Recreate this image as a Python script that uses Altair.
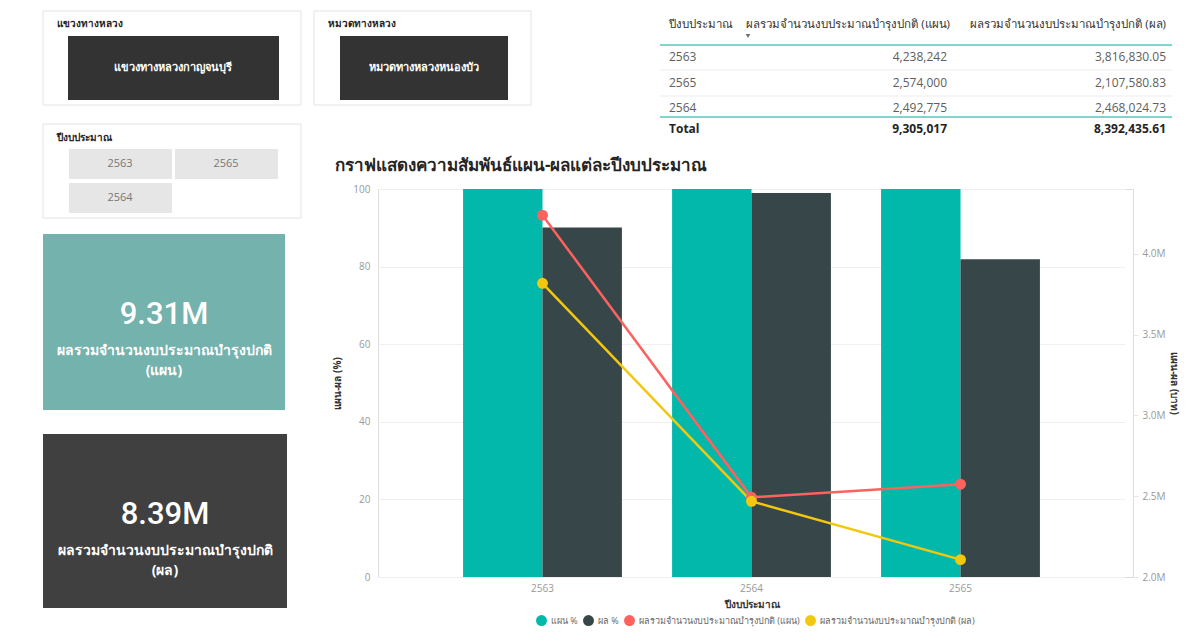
import altair as alt
import pandas as pd

# ---------------- data ----------------
years = ["2563", "2564", "2565"]
plan_pct = [100, 100, 100]
actual_pct = [90.1, 99.0, 81.9]
plan_amount = [4238242, 2492775, 2574000]
actual_amount = [3816830.05, 2468024.73, 2107580.83]

series_names = ["แผน %", "ผล %",
                "ผลรวมจำนวนงบประมาณบำรุงปกติ (แผน)",
                "ผลรวมจำนวนงบประมาณบำรุงปกติ (ผล)"]
series_colors = ["#01B8AA", "#374649", "#FD625E", "#F2C80F"]

table_years = ["2563", "2565", "2564"]
table_plan = [4238242, 2574000, 2492775]
table_actual = [3816830.05, 2107580.83, 2468024.73]
total_plan = 9305017
total_actual = 8392435.61

kpi_values = ["9.31M", "8.39M"]
year_buttons = ["2563", "2565", "2564"]

FONT = "Open Sans"
OX, OY = 378, 189          # page position of plot origin
W, H = 755, 388

one = pd.DataFrame({"k": [0]})


def box(x0, y0, x1, y1, fill, stroke=None, sw=1):
    kw = dict(fill=fill)
    if stroke:
        kw.update(stroke=stroke, strokeWidth=sw)
    else:
        kw.update(strokeWidth=0)
    return alt.Chart(one).mark_rect(**kw).encode(
        x=alt.value(x0 - OX), x2=alt.value(x1 - OX),
        y=alt.value(y0 - OY), y2=alt.value(y1 - OY))


def label(s, x, y, size, color, weight="normal", align="left", font=FONT):
    return alt.Chart(one).mark_text(
        text=s, fontSize=size, color=color, fontWeight=weight,
        align=align, baseline="middle", font=font).encode(
        x=alt.value(x - OX), y=alt.value(y - OY))


def hline(x0, x1, y, color, sw=1):
    return alt.Chart(one).mark_rule(color=color, strokeWidth=sw).encode(
        x=alt.value(x0 - OX), x2=alt.value(x1 - OX), y=alt.value(y - OY))


deco = []
# slicer panels
deco += [box(43, 11, 301, 105, "white", "#E3E3E3"),
         label("แขวงทางหลวง", 57, 24, 10, "#252423", "bold"),
         box(68, 36, 279, 100, "#333333"),
         label("แขวงทางหลวงกาญจนบุรี", 173, 68, 11, "white", "bold", "center")]
deco += [box(314, 11, 531, 105, "white", "#E3E3E3"),
         label("หมวดทางหลวง", 328, 24, 10, "#252423", "bold"),
         box(340, 36, 508, 100, "#333333"),
         label("หมวดทางหลวงหนองบัว", 424, 68, 11, "white", "bold", "center")]
deco += [box(43, 124, 301, 218, "white", "#E3E3E3"),
         label("ปีงบประมาณ", 57, 138, 10, "#252423", "bold")]
btn_pos = [(69, 149), (175, 149), (69, 183)]
for yb, (bx, by) in zip(year_buttons, btn_pos):
    deco += [box(bx, by, bx + 103, by + 30, "#E6E6E6"),
             label(yb, bx + 51, by + 15, 11, "#777777", "normal", "center")]

# KPI cards
deco += [box(43, 234, 285, 410, "#74B2AD"),
         label(kpi_values[0], 164, 315, 31, "white", 500, "center", "Roboto"),
         label("ผลรวมจำนวนงบประมาณบำรุงปกติ", 164, 351, 14, "white", "bold", "center"),
         label("(แผน)", 164, 371, 14, "white", "bold", "center")]
deco += [box(43, 434, 287, 608, "#404040"),
         label(kpi_values[1], 165, 515, 31, "white", 500, "center", "Roboto"),
         label("ผลรวมจำนวนงบประมาณบำรุงปกติ", 165, 551, 14, "white", "bold", "center"),
         label("(ผล)", 165, 571, 14, "white", "bold", "center")]

# table
deco += [label("ปีงบประมาณ", 669, 25, 11.5, "#333333"),
         label("ผลรวมจำนวนงบประมาณบำรุงปกติ (แผน)", 950, 25, 11.5, "#333333", "normal", "right"),
         label("ผลรวมจำนวนงบประมาณบำรุงปกติ (ผล)", 1166, 25, 11.5, "#333333", "normal", "right"),
         alt.Chart(one).mark_point(shape="triangle-down", filled=True, size=22, color="#333333").encode(
             x=alt.value(748 - OX), y=alt.value(36 - OY)),
         hline(660, 1172, 45, "#7ED7CC", 2)]
row_y = [57, 83, 108]
for i, (yy, pv, av) in enumerate(zip(table_years, table_plan, table_actual)):
    deco += [label(yy, 669, row_y[i], 12, "#605E5C"),
             label(f"{pv:,}", 947, row_y[i], 12, "#605E5C", "normal", "right"),
             label(f"{av:,.2f}", 1166, row_y[i], 12, "#605E5C", "normal", "right")]
    if i < 2:
        deco.append(hline(660, 1172, row_y[i] + 13, "#EDEDED", 1))
deco += [hline(660, 1172, 117, "#7ED7CC", 2),
         label("Total", 669, 129, 12, "#252423", "bold"),
         label(f"{total_plan:,}", 947, 129, 12, "#252423", "bold", "right"),
         label(f"{total_actual:,.2f}", 1166, 129, 12, "#252423", "bold", "right")]

# chart title
deco.append(label("กราฟแสดงความสัมพันธ์แผน-ผลแต่ละปีงบประมาณ", 335, 166, 17, "#252423", "bold"))

# ---------------- combo chart ----------------
bar_df = pd.DataFrame({
    "year": years * 2,
    "series": [series_names[0]] * 3 + [series_names[1]] * 3,
    "pct": plan_pct + actual_pct,
})
line_df = pd.DataFrame({
    "year": years * 2,
    "series": [series_names[2]] * 3 + [series_names[3]] * 3,
    "amount": plan_amount + actual_amount,
})

color_scale = alt.Scale(domain=series_names, range=series_colors)
x_enc = alt.X("year:N", sort=years,
              scale=alt.Scale(range=[0, W - 8], paddingInner=0.24, paddingOuter=0.407),
              axis=alt.Axis(title="ปีงบประมาณ", labelAngle=0, domain=False, ticks=False,
                            labelColor="#999999", labelFontSize=10, labelPadding=6,
                            titleFontSize=10, titleColor="#333333", titleFontWeight="bold",
                            titlePadding=6))

bars = alt.Chart(bar_df).mark_bar().encode(
    x=x_enc,
    xOffset=alt.XOffset("series:N", sort=series_names[:2]),
    y=alt.Y("pct:Q", scale=alt.Scale(domain=[0, 100], nice=False),
            axis=alt.Axis(values=[0, 20, 40, 60, 80, 100], title="แผน-ผล (%)",
                          grid=True, gridColor="#EFEFEF", ticks=False, domain=False,
                          labelColor="#999999", labelFontSize=10, labelPadding=8,
                          titleFontSize=10, titleColor="#333333", titleFontWeight="bold",
                          titlePadding=10)),
    color=alt.Color("series:N", scale=color_scale,
                    legend=alt.Legend(orient="none", legendX=158, legendY=426,
                                      direction="horizontal", title=None,
                                      symbolType="circle", symbolSize=120,
                                      labelFontSize=9, labelColor="#666666",
                                      columnPadding=5, labelLimit=400,
                                      symbolStrokeWidth=0)),
)

lines = alt.Chart(line_df).mark_line(
    strokeWidth=2.5, point=alt.OverlayMarkDef(filled=True, size=120)).encode(
    x=alt.X("year:N", sort=years),
    y=alt.Y("amount:Q", scale=alt.Scale(domain=[2000000, 4400000], nice=False, zero=False),
            axis=alt.Axis(orient="right", values=[2000000, 2500000, 3000000, 3500000, 4000000],
                          format=".2s", title="แผน-ผล (บาท)", titleAngle=90,
                          grid=False, ticks=True, tickColor="#E6E6E6", tickSize=5,
                          domain=False, labelColor="#999999", labelFontSize=10,
                          labelPadding=4, titleFontSize=10, titleColor="#333333",
                          titleFontWeight="bold", titlePadding=3)),
    color=alt.Color("series:N", scale=color_scale, legend=None),
    detail="series:N",
)

chart = alt.layer(*deco, bars, lines).resolve_scale(y="independent").properties(
    width=W, height=H,
    autosize=alt.AutoSizeParams(type="none"),
    padding={"left": OX - 8, "top": OY - 8, "right": 1186 - OX - W, "bottom": 633 - OY - H},
).configure_view(stroke=None).configure(font=FONT, background="white")

chart.save("out.html", embed_options={"renderer": "svg", "actions": False})
